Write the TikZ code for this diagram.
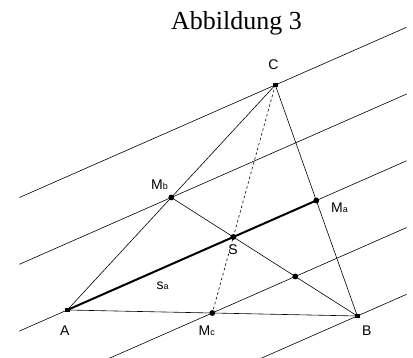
\documentclass[tikz,border=0pt]{standalone}
\usepackage{fontspec}
\setmainfont{Liberation Serif}
\setsansfont{Liberation Sans}
\usetikzlibrary{calc}
\tikzset{
  thinline/.style={line width=0.6pt, black},
  medline/.style={line width=2pt, black},
  dotline/.style={line width=0.6pt, dash pattern=on 2.5pt off 2.5pt},
  sqpt/.style={fill=black, minimum size=4.8pt, inner sep=0pt, outer sep=0pt, draw=none, rectangle},
  rdpt/.style={fill=black, circle, minimum size=5.8pt, inner sep=0pt, outer sep=0pt, draw=none},
  lbl/.style={font=\sffamily\fontsize{14}{14}\selectfont, inner sep=0pt, anchor=base},
  lblw/.style={font=\sffamily\fontsize{14}{14}\selectfont, inner sep=0pt, anchor=base west},
}
\newcommand{\subtxt}[1]{{\fontsize{9}{9}\selectfont #1}}
\begin{document}
\begin{tikzpicture}[x=1pt,y=-1pt]
\useasboundingbox (0,0) rectangle (413,358);
% vertices
\coordinate (A) at (67.3,310);
\coordinate (B) at (357.3,316);
\coordinate (C) at (275.3,85);
\coordinate (Ma) at ($(B)!0.5!(C)$);
\coordinate (Mb) at ($(A)!0.5!(C)$);
\coordinate (Mc) at ($(A)!0.5!(B)$);
\coordinate (S) at ($(Mb)!1/3!(B)$);
\coordinate (P) at ($(Mb)!2/3!(B)$);
% parallel lines
\begin{scope}
\clip (19.3,0) rectangle (406.7,358);
\foreach \p in {C,Mb,A,Mc,B}{
  \draw[thinline] ($(\p)!-3!($(\p)+(Ma)-(A)$)$) -- ($(\p)!3!($(\p)+(Ma)-(A)$)$);
}
\end{scope}
% triangle
\draw[thinline] (A) -- (B) -- (C) -- cycle;
\draw[thinline] (Mb) -- (B);
\draw[dotline] (C) -- (Mc);
\draw[medline] (A) -- (Ma);
% points
\node[sqpt] (nA) at (A) {};
\node[sqpt] (nB) at (B) {};
\node[sqpt] (nC) at (C) {};
\node[rdpt] (nMa) at (Ma) {};
\node[rdpt] (nMb) at (Mb) {};
\node[rdpt] (nMc) at (Mc) {};
\node[rdpt] (nS) at (S) {};
\node[rdpt] (nP) at (P) {};
% labels
\node[font=\fontsize{26}{26}\selectfont, inner sep=0pt, anchor=base] (title) at (236.5,30) {Abbildung 3};
\node[lbl] (lC) at (273.5,70) {C};
\node[lbl] (lA) at (64.7,335.7) {A};
\node[lbl] (lB) at (366.7,335.3) {B};
\node[lbl] (lS) at (233,255) {S};
\node[lblw] (lMa) at (331,212.7) {M\subtxt{a}};
\node[lblw] (lMb) at (151,190) {M\subtxt{b}};
\node[lblw] (lMc) at (198.5,336) {M\subtxt{c}};
\node[lblw] (lsa) at (156.5,289.3) {s\subtxt{a}};
\end{tikzpicture}
\end{document}
